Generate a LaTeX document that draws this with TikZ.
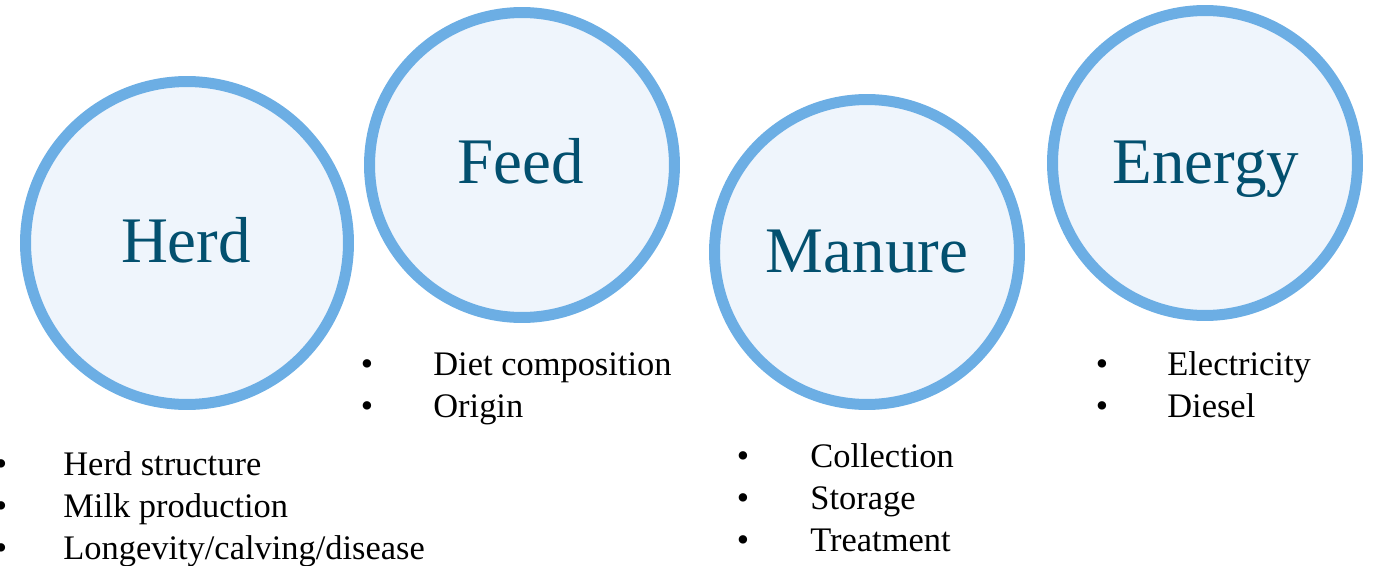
\documentclass[tikz,border=0pt]{standalone}
\usepackage{fontspec}
\setmainfont{Liberation Serif}
\definecolor{ringblue}{HTML}{6CAEE4}
\definecolor{ringfill}{HTML}{EFF5FC}
\definecolor{titleblue}{HTML}{03506F}

\begin{document}
\begin{tikzpicture}[x=0.02cm, y=-0.02cm,
    ring/.style={circle, draw=ringblue, fill=ringfill, line width=0.22cm,
        inner sep=0pt, minimum size=6.1cm},
    title/.style={anchor=base, inner sep=0pt, text=titleblue,
        font=\fontsize{37}{37}\selectfont},
    dot/.style={anchor=base, inner sep=0pt, font=\fontsize{20}{20}\selectfont},
    item/.style={anchor=base west, inner sep=0pt, font=\fontsize{19.6}{20}\selectfont}]
\useasboundingbox (0,0) rectangle (1376,565);

% the four circles
\node[ring, minimum size=6.46cm] (herd) at (187,243) {};
\node[ring] (feed) at (522,165) {};
\node[ring] (manure) at (867,252) {};
\node[ring] (energy) at (1205,163) {};

\node[title] (herdtitle) at (186,262) {Herd};
\node[title] (feedtitle) at (521,183) {Feed};
\node[title] (manuretitle) at (867,272) {Manure};
\node[title] (energytitle) at (1206,183) {Energy};

% bullet lists
\foreach \txt [count=\i] in {Herd structure, Milk production, Longevity/calving/disease} {
    \node[dot] (herddot\i) at (1,433+42*\i) {\textbullet};
    \node[item] (herditem\i) at (63,433+42*\i) {\txt};
}
\foreach \txt [count=\i] in {Diet composition, Origin} {
    \node[dot] (feeddot\i) at (367,333+42*\i) {\textbullet};
    \node[item] (feeditem\i) at (433,333+42*\i) {\txt};
}
\foreach \txt [count=\i] in {Collection, Storage, Treatment} {
    \node[dot] (manuredot\i) at (743,425+42*\i) {\textbullet};
    \node[item] (manureitem\i) at (810,425+42*\i) {\txt};
}
\foreach \txt [count=\i] in {Electricity, Diesel} {
    \node[dot] (energydot\i) at (1102,333+42*\i) {\textbullet};
    \node[item] (energyitem\i) at (1167,333+42*\i) {\txt};
}

\end{tikzpicture}
\end{document}
